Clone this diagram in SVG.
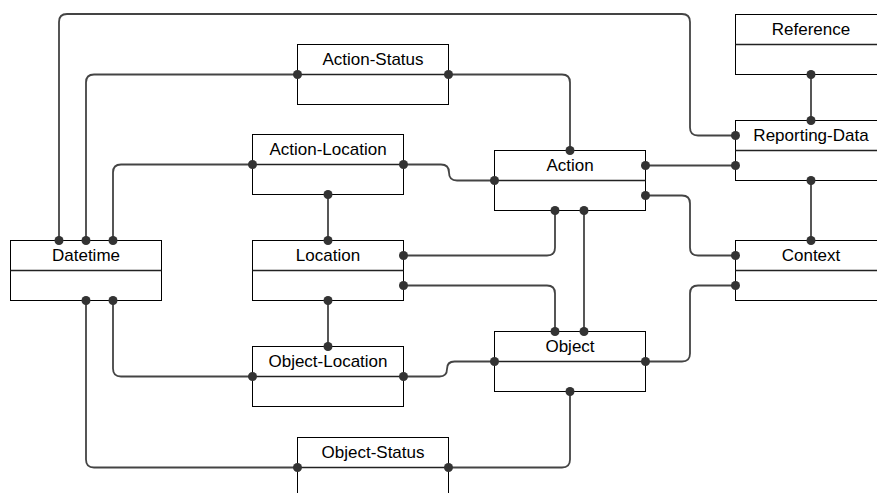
<svg xmlns="http://www.w3.org/2000/svg" width="877" height="493" viewBox="0 0 877 493">
<style>
.box{fill:#fff;stroke:#000;stroke-width:1}
.div{stroke:#222;stroke-width:1.5}
.lbl{font-family:"Liberation Sans",Arial,sans-serif;font-size:17px;fill:#000;text-anchor:middle}
.con{fill:none;stroke:#444;stroke-width:1.8}
.dot{fill:#333}
</style>
<rect width="877" height="493" fill="#fff"/>
<g id="connectors">
<path class="con" d="M59,240.5 V22 Q59,14 67,14 H682 Q690,14 690,22 V127.5 Q690,135.5 698,135.5 H735.5"/>
<path class="con" d="M86,240.5 V82.5 Q86,74.5 94,74.5 H297.5"/>
<path class="con" d="M448.5,74.5 H562 Q570,74.5 570,82.5 V150.5"/>
<path class="con" d="M113,240.5 V172.5 Q113,164.5 121,164.5 H252.5"/>
<path class="con" d="M403.5,164.5 H441 Q449,164.5 449,172.5 Q449,180.5 457,180.5 H494.5"/>
<path class="con" d="M328,194.5 V240.5"/>
<path class="con" d="M403.5,255.5 H547 Q555,255.5 555,247.5 V210.5"/>
<path class="con" d="M403.5,285.5 H547 Q555,285.5 555,293.5 V331.5"/>
<path class="con" d="M584,210.5 V331.5"/>
<path class="con" d="M328,300.5 V346.5"/>
<path class="con" d="M86,300.5 V459.5 Q86,467.5 94,467.5 H297.5"/>
<path class="con" d="M113,300.5 V368.5 Q113,376.5 121,376.5 H252.5"/>
<path class="con" d="M403.5,376.5 H439.5 Q447,376.5 447,369 Q447,361.5 454.5,361.5 H494.5"/>
<path class="con" d="M448.5,467.5 H562 Q570,467.5 570,459.5 V391.5"/>
<path class="con" d="M645.5,361.5 H682 Q690,361.5 690,353.5 V293.5 Q690,285.5 698,285.5 H735.5"/>
<path class="con" d="M645.5,165.5 H735.5"/>
<path class="con" d="M645.5,195.5 H682 Q690,195.5 690,203.5 V247.5 Q690,255.5 698,255.5 H735.5"/>
<path class="con" d="M811,74.5 V120.5"/>
<path class="con" d="M811,180.5 V240.5"/>
</g>
<g id="n-reference"><rect class="box" x="735.5" y="14.5" width="151" height="60"/><line class="div" x1="735.5" y1="44.5" x2="886.5" y2="44.5"/><text class="lbl" x="811" y="35">Reference</text></g>
<g id="n-action-status"><rect class="box" x="297.5" y="44.5" width="151" height="60"/><line class="div" x1="297.5" y1="74.5" x2="448.5" y2="74.5"/><text class="lbl" x="373" y="65">Action-Status</text></g>
<g id="n-reporting-data"><rect class="box" x="735.5" y="120.5" width="151" height="60"/><line class="div" x1="735.5" y1="150.5" x2="886.5" y2="150.5"/><text class="lbl" x="811" y="141">Reporting-Data</text></g>
<g id="n-action-location"><rect class="box" x="252.5" y="134.5" width="151" height="60"/><line class="div" x1="252.5" y1="164.5" x2="403.5" y2="164.5"/><text class="lbl" x="328" y="155">Action-Location</text></g>
<g id="n-action"><rect class="box" x="494.5" y="150.5" width="151" height="60"/><line class="div" x1="494.5" y1="180.5" x2="645.5" y2="180.5"/><text class="lbl" x="570" y="171">Action</text></g>
<g id="n-datetime"><rect class="box" x="10.5" y="240.5" width="151" height="60"/><line class="div" x1="10.5" y1="270.5" x2="161.5" y2="270.5"/><text class="lbl" x="86" y="261">Datetime</text></g>
<g id="n-location"><rect class="box" x="252.5" y="240.5" width="151" height="60"/><line class="div" x1="252.5" y1="270.5" x2="403.5" y2="270.5"/><text class="lbl" x="328" y="261">Location</text></g>
<g id="n-context"><rect class="box" x="735.5" y="240.5" width="151" height="60"/><line class="div" x1="735.5" y1="270.5" x2="886.5" y2="270.5"/><text class="lbl" x="811" y="261">Context</text></g>
<g id="n-object"><rect class="box" x="494.5" y="331.5" width="151" height="60"/><line class="div" x1="494.5" y1="361.5" x2="645.5" y2="361.5"/><text class="lbl" x="570" y="352">Object</text></g>
<g id="n-object-location"><rect class="box" x="252.5" y="346.5" width="151" height="60"/><line class="div" x1="252.5" y1="376.5" x2="403.5" y2="376.5"/><text class="lbl" x="328" y="367">Object-Location</text></g>
<g id="n-object-status"><rect class="box" x="297.5" y="437.5" width="151" height="60"/><line class="div" x1="297.5" y1="467.5" x2="448.5" y2="467.5"/><text class="lbl" x="373" y="458">Object-Status</text></g>
<g id="dots">
<circle class="dot" cx="59" cy="240.5" r="4.5"/><circle class="dot" cx="735.5" cy="135.5" r="4.5"/>
<circle class="dot" cx="86" cy="240.5" r="4.5"/><circle class="dot" cx="297.5" cy="74.5" r="4.5"/>
<circle class="dot" cx="448.5" cy="74.5" r="4.5"/><circle class="dot" cx="570" cy="150.5" r="4.5"/>
<circle class="dot" cx="113" cy="240.5" r="4.5"/><circle class="dot" cx="252.5" cy="164.5" r="4.5"/>
<circle class="dot" cx="403.5" cy="164.5" r="4.5"/><circle class="dot" cx="494.5" cy="180.5" r="4.5"/>
<circle class="dot" cx="328" cy="194.5" r="4.5"/><circle class="dot" cx="328" cy="240.5" r="4.5"/>
<circle class="dot" cx="403.5" cy="255.5" r="4.5"/><circle class="dot" cx="555" cy="210.5" r="4.5"/>
<circle class="dot" cx="403.5" cy="285.5" r="4.5"/><circle class="dot" cx="555" cy="331.5" r="4.5"/>
<circle class="dot" cx="584" cy="210.5" r="4.5"/><circle class="dot" cx="584" cy="331.5" r="4.5"/>
<circle class="dot" cx="328" cy="300.5" r="4.5"/><circle class="dot" cx="328" cy="346.5" r="4.5"/>
<circle class="dot" cx="86" cy="300.5" r="4.5"/><circle class="dot" cx="297.5" cy="467.5" r="4.5"/>
<circle class="dot" cx="113" cy="300.5" r="4.5"/><circle class="dot" cx="252.5" cy="376.5" r="4.5"/>
<circle class="dot" cx="403.5" cy="376.5" r="4.5"/><circle class="dot" cx="494.5" cy="361.5" r="4.5"/>
<circle class="dot" cx="448.5" cy="467.5" r="4.5"/><circle class="dot" cx="570" cy="391.5" r="4.5"/>
<circle class="dot" cx="645.5" cy="361.5" r="4.5"/><circle class="dot" cx="735.5" cy="285.5" r="4.5"/>
<circle class="dot" cx="645.5" cy="165.5" r="4.5"/><circle class="dot" cx="735.5" cy="165.5" r="4.5"/>
<circle class="dot" cx="645.5" cy="195.5" r="4.5"/><circle class="dot" cx="735.5" cy="255.5" r="4.5"/>
<circle class="dot" cx="811" cy="74.5" r="4.5"/><circle class="dot" cx="811" cy="120.5" r="4.5"/>
<circle class="dot" cx="811" cy="180.5" r="4.5"/><circle class="dot" cx="811" cy="240.5" r="4.5"/>
</g>
</svg>
